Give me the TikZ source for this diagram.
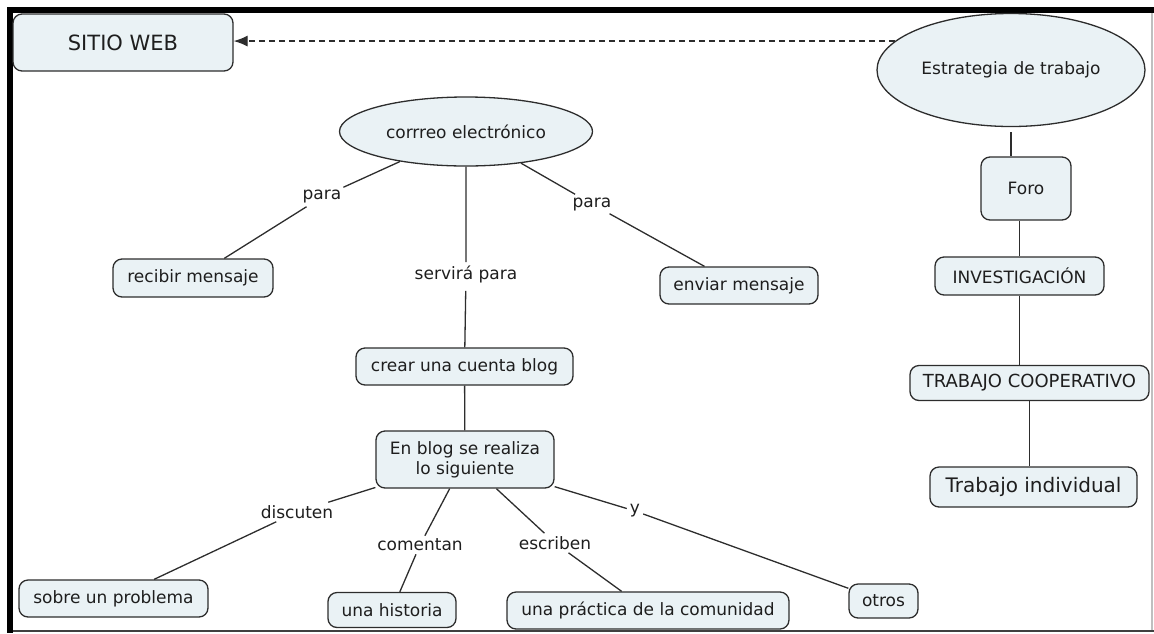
\documentclass[tikz,border=0pt]{standalone}
\usepackage{fontspec}
\setmainfont{DejaVu Sans}
\usetikzlibrary{shapes.geometric,arrows.meta}

\definecolor{caja}{RGB}{234,242,245}
\definecolor{linea}{RGB}{45,45,45}
\definecolor{texto}{RGB}{30,30,30}

\begin{document}
\begin{tikzpicture}[x=1pt,y=-1pt,
	concepto/.style={draw=linea, fill=caja, line width=1.3pt, rounded corners=9pt,
		align=center, text=texto, inner sep=2pt, font=\fontsize{17}{20}\selectfont},
	elipse/.style={draw=linea, fill=caja, line width=1.3pt, ellipse, inner sep=0pt,
		text=texto, font=\fontsize{17}{20}\selectfont},
	enlace/.style={inner sep=3pt, text=texto, font=\fontsize{17}{20}\selectfont},
	conector/.style={draw=linea, line width=1.3pt}]
	\useasboundingbox (0,0) rectangle (1154,633);
	\fill (7,7) rectangle (1154,13);
	\fill (7,7) rectangle (13,633);
	\draw[gray!50, line width=1.5pt] (1152,13) -- (1152,631);
	\draw[black!75, line width=2pt] (13,631) -- (1154,631);

	\node[concepto, minimum width=220, minimum height=57, font=\fontsize{21}{24}\selectfont] (sitio) at (123,42.5) {SITIO WEB};
	\node[elipse, minimum width=268, minimum height=113] (estrategia) at (1011,70) {Estrategia de trabajo};
	\node[concepto, minimum width=90, minimum height=63] (foro) at (1026,188.5) {Foro};
	\node[concepto, minimum width=169, minimum height=38] (invest) at (1019.5,276) {INVESTIGACIÓN};
	\node[concepto, minimum width=239, minimum height=35, font=\fontsize{18}{20}\selectfont] (coop) at (1029.5,383) {TRABAJO COOPERATIVO};
	\node[concepto, minimum width=207, minimum height=40, font=\fontsize{20}{24}\selectfont] (indiv) at (1033.5,487) {Trabajo individual};

	\node[elipse, minimum width=253, minimum height=69] (correo) at (466,131.5) {corrreo electrónico};
	\node[concepto, minimum width=160, minimum height=38] (recibir) at (193,278) {recibir mensaje};
	\node[concepto, minimum width=158, minimum height=37] (enviar) at (739,285.5) {enviar mensaje};
	\node[concepto, minimum width=217, minimum height=37] (crear) at (464.5,366.5) {crear una cuenta blog};
	\node[concepto, minimum width=178, minimum height=57] (blog) at (465,459.5) {En blog se realiza\\lo siguiente};
	\node[concepto, minimum width=189, minimum height=37] (problema) at (113.5,598.5) {sobre un problema};
	\node[concepto, minimum width=128, minimum height=35] (historia) at (392,610) {una historia};
	\node[concepto, minimum width=282, minimum height=37] (practica) at (648,610.5) {una práctica de la comunidad};
	\node[concepto, minimum width=69, minimum height=34] (otros) at (883.5,601) {otros};

	\node[enlace] (para1) at (322,197) {para};
	\node[enlace] (sirve) at (466,274) {servirá para};
	\node[enlace] (para2) at (592,204) {para};
	\node[enlace] (discuten) at (297,512) {discuten};
	\node[enlace] (comentan) at (420,545) {comentan};
	\node[enlace] (escriben) at (555,543) {escriben};
	\node[enlace] (ylink) at (635,511) {y};

	\draw[linea, line width=1.2pt, dash pattern=on 6pt off 4pt, -{Latex[length=14pt,width=11pt]}]
		(estrategia.166) -- (estrategia.166 -| sitio.east);
	\draw[conector, shorten <=5pt] (estrategia.south) -- (estrategia.south |- foro.north);
	\draw[conector] (invest.north) -- (invest.north |- foro.south);
	\draw[conector] (invest.south) -- (invest.south |- coop.north);
	\draw[conector] (coop.south) -- (coop.south |- indiv.north);

	\draw[conector] (correo) -- (para1) -- (recibir);
	\draw[conector, shorten <=5pt] (correo) -- (sirve) -- (crear);
	\draw[conector] (correo) -- (para2) -- (enviar);
	\draw[conector] (crear) -- (blog);
	\draw[conector] (blog) -- (discuten) -- (problema);
	\draw[conector] (blog) -- (comentan) -- (historia);
	\draw[conector] (blog) -- (escriben) -- (practica);
	\draw[conector] (blog) -- (ylink) -- (otros);
\end{tikzpicture}
\end{document}
